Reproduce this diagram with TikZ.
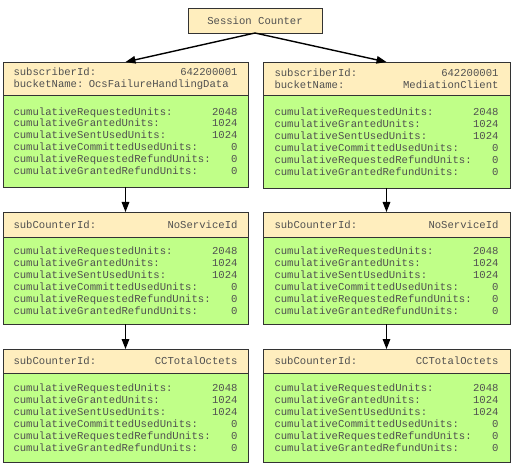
\documentclass[tikz,border=0pt]{standalone}
\usepackage{fontspec}
\setmonofont{Liberation Mono}
\usetikzlibrary{arrows.meta,positioning}
\definecolor{scline}{HTML}{333333}
\definecolor{schead}{HTML}{FFEEBE}
\definecolor{scbody}{HTML}{C0FF88}
\definecolor{sctext}{HTML}{505050}
\tikzset{
  cell/.style={rectangle,draw=scline,line width=0.9pt,outer sep=0pt,
               inner xsep=10.5pt,inner ysep=2pt,
               text width=224pt,align=left,text=sctext,
               font=\ttfamily\fontsize{10.6}{11.9}\selectfont},
  head/.style={cell,fill=schead},
  counts/.style={cell,fill=scbody},
  wide/.style={inner xsep=11.5pt},
  root/.style={rectangle,draw=scline,line width=0.9pt,outer sep=0pt,fill=schead,text=sctext,
               minimum width=134pt,minimum height=25pt,
               font=\ttfamily\fontsize{10.6}{11.9}\selectfont},
  link/.style={-{Triangle[length=10pt,width=7.5pt]},line width=1.4pt,draw=black},
}
\newcommand{\cumunits}{%
  cumulativeRequestedUnits:\hfill 2048\\
  cumulativeGrantedUnits:\hfill 1024\\
  cumulativeSentUsedUnits:\hfill 1024\\
  cumulativeCommittedUsedUnits:\hfill 0\\
  cumulativeRequestedRefundUnits:\hfill 0\\
  cumulativeGrantedRefundUnits:\hfill 0}
\begin{document}
\begin{tikzpicture}[x=1pt,y=1pt]
\useasboundingbox (0,0) rectangle (512,-468);
% session counter
\node[root] (session) at (255,-20.5) {Session Counter};
% left column
\node[head,anchor=north west,minimum height=33pt] (lsub) at (3,-62)
  {subscriberId:\hfill 642200001\\ bucketName: OcsFailureHandlingData};
\node[counts,below=0pt of lsub,minimum height=92pt] (lsubc) {\cumunits};
\node[head,below=25pt of lsubc,minimum height=25pt] (lnosvc) {subCounterId:\hfill NoServiceId};
\node[counts,below=0pt of lnosvc,minimum height=87pt] (lnosvcc) {\cumunits};
\node[head,below=25pt of lnosvcc,minimum height=24pt] (loct) {subCounterId:\hfill CCTotalOctets};
\node[counts,below=0pt of loct,minimum height=89pt] (loctc) {\cumunits};
% right column
\node[head,wide,anchor=north west,minimum height=33pt] (rsub) at (263,-62)
  {subscriberId:\hfill 642200001\\ bucketName:\hfill MediationClient};
\node[counts,wide,below=0pt of rsub,minimum height=93pt] (rsubc) {\cumunits};
\node[head,wide,below=24pt of rsubc,minimum height=25pt] (rnosvc) {subCounterId:\hfill NoServiceId};
\node[counts,wide,below=0pt of rnosvc,minimum height=87pt] (rnosvcc) {\cumunits};
\node[head,wide,below=25pt of rnosvcc,minimum height=24pt] (roct) {subCounterId:\hfill CCTotalOctets};
\node[counts,wide,below=0pt of roct,minimum height=89pt] (roctc) {\cumunits};
% connectors
\draw[link] (session.south) -- (lsub.north);
\draw[link] (session.south) -- (rsub.north);
\draw[link] (lsubc) -- (lnosvc);
\draw[link] (lnosvcc) -- (loct);
\draw[link] (rsubc) -- (rnosvc);
\draw[link] (rnosvcc) -- (roct);
\end{tikzpicture}
\end{document}
